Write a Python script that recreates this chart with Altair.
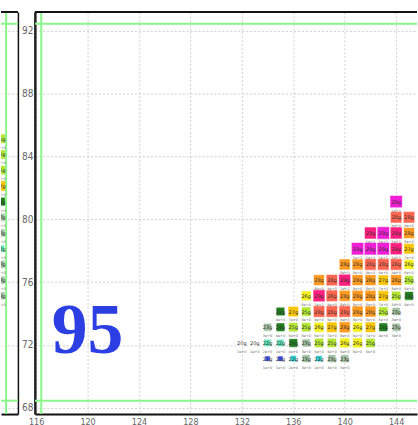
import altair as alt
import pandas as pd

# ---- data -------------------------------------------------------------
# Grid cells of the right-hand panel: for each latitude row, the first
# longitude and the intensity level of each consecutive cell.
rows_right = {
    81: (144, [12]),
    80: (144, [10, 10]),
    79: (142, [11, 12, 11, 9]),
    78: (141, [12, 12, 12, 11, 8]),
    77: (140, [9, 9, 10, 10, 10, 7]),
    76: (138, [9, 10, 11, 9, 9, 8, 9, 6]),
    75: (137, [7, 11, 10, 9, 9, 9, 8, 6, 5]),
    74: (135, [5, 8, 6, 10, 10, 10, 9, 9, 6, 4]),
    73: (134, [4, 5, 6, 6, 7, 8, 9, 7, 8, 5, 4]),
    72: (132, [0, 0, 3, 3, 5, 4, 6, 6, 7, 7, 6]),
    71: (134, [1, 1, 2, 4, 2, 4, 4]),
}

# Cells of the left-hand panel (only its eastern edge is in view)
left_lon = 146
left_lats = [85, 84, 83, 82, 81, 80, 79, 78, 77, 76, 75]
left_levels = [6, 6, 6, 8, 5, 4, 4, 3, 4, 4, 4]

level_codes = ["20g", "21g", "22g", "22g", "23g", "24g", "25g",
               "26g", "27g", "28g", "28g", "29g", "29g"]
level_notes = ["1e+0", "1e+0", "2e+0", "2e+0", "3e+0", "4e+0", "5e+0",
               "6e+0", "7e+0", "8e+0", "9e+0", "1e+1", "1e+1"]
palette = ["#ffffff", "#3d4fe0", "#35d4d4", "#5fe3b5", "#a3c2a3",
           "#1f7f1f", "#b4e634", "#f4f020", "#f9c60a", "#ff9a1f",
           "#ff6650", "#ff1f7e", "#ef1fd6"]

box_lats = [68.45, 92.45]
box_lons = [116.4, 146.4]

x_ticks = [116, 120, 124, 128, 132, 136, 140, 144]
y_ticks = [68, 72, 76, 80, 84, 88, 92]

year_label = "95"
year_lon, year_lat = 120.0, 72.85

# ---- tables -----------------------------------------------------------
recs = []
for lat, (lon0, levels) in rows_right.items():
    for i, lv in enumerate(levels):
        recs.append({"lon": lon0 + i, "lat": lat, "level": lv})
right_df = pd.DataFrame(recs)
left_df = pd.DataFrame({"lon": [left_lon] * len(left_lats),
                        "lat": left_lats, "level": left_levels})
for df in (right_df, left_df):
    df["code"] = [level_codes[v] for v in df["level"]]
    df["note"] = [level_notes[v] for v in df["level"]]

PANEL_H = 404
RIGHT_W = 384
LEFT_W = 17
PX_PER_DEG = 12.92
lat_scale = alt.Scale(domain=[67.6, 93.2], nice=False, zero=False)
right_lon_scale = alt.Scale(domain=[115.9, 115.9 + RIGHT_W / PX_PER_DEG], nice=False, zero=False)
left_lon_scale = alt.Scale(domain=[146.0, 146.0 + LEFT_W / PX_PER_DEG], nice=False, zero=False)

color_scale = alt.Scale(domain=list(range(13)), range=palette)
size_scale = alt.Scale(domain=[0, 12], range=[18, 155])

NARROW = "Liberation Sans Narrow, DejaVu Sans Condensed, sans-serif"
GRID = dict(grid=True, gridDash=[2, 2], gridColor="#cfcfcf", gridWidth=1)


def panel(df, lon_scale, x_axis, y_axis, width, lons_box, extra=None):
    base = alt.Chart(df).encode(
        x=alt.X("lon:Q", scale=lon_scale, axis=x_axis),
        y=alt.Y("lat:Q", scale=lat_scale, axis=y_axis),
    )
    squares = base.mark_square(
        clip=True, opacity=1, yOffset=-2, stroke="white",
        strokeWidth=1, strokeOpacity=0.55,
    ).encode(
        color=alt.Color("level:O", scale=color_scale, legend=None),
        size=alt.Size("level:Q", scale=size_scale, legend=None),
    )
    codes = base.mark_text(clip=True, fontSize=5, color="#333333", dy=-2,
                           font="DejaVu Sans").encode(text="code:N")
    notes = base.mark_text(clip=True, fontSize=3.5, color="#666666", dy=7,
                           font="DejaVu Sans").encode(text="note:N")

    hlines = alt.Chart(pd.DataFrame({"lat": box_lats})).mark_rule(
        color="#8af58a", strokeWidth=2, clip=True
    ).encode(y=alt.Y("lat:Q", scale=lat_scale))
    vlines = alt.Chart(pd.DataFrame({"lon": lons_box})).mark_rule(
        color="#8af58a", strokeWidth=2, clip=True
    ).encode(x=alt.X("lon:Q", scale=lon_scale))
    top_border = alt.Chart(pd.DataFrame({"k": [0]})).mark_rule(
        color="#111111", strokeWidth=2
    ).encode(y=alt.value(0))

    layers = [squares, hlines, vlines, codes, notes, top_border]
    if extra is not None:
        layers.append(extra)
    return alt.layer(*layers).properties(width=width, height=PANEL_H)


right_x_axis = alt.Axis(values=x_ticks, ticks=False, domainColor="#111111",
                        domainWidth=2, labelFontSize=9, labelColor="#666666",
                        labelPadding=4, labelFont=NARROW, title=None, **GRID)
right_y_axis = alt.Axis(values=y_ticks, ticks=False, domainColor="#222222",
                        domainWidth=2.5, labelFontSize=10, labelColor="#666666",
                        labelPadding=2, labelFont=NARROW, title=None, **GRID)
left_x_axis = alt.Axis(values=x_ticks, ticks=False, labels=False,
                       domainColor="#111111", domainWidth=2, title=None,
                       grid=False)
left_y_axis = alt.Axis(values=y_ticks, orient="right", ticks=False,
                       labels=False, domainColor="#111111", domainWidth=1.5,
                       title=None, **GRID)

year_text = alt.Chart(pd.DataFrame({"lon": [year_lon], "lat": [year_lat],
                                    "t": [year_label]})).mark_text(
    font="Liberation Serif", fontWeight="bold", fontSize=72,
    color="#2b3fe3", baseline="middle", align="center",
).encode(x=alt.X("lon:Q", scale=right_lon_scale),
         y=alt.Y("lat:Q", scale=lat_scale), text="t:N")

left = panel(left_df, left_lon_scale, left_x_axis, left_y_axis, LEFT_W,
             box_lons)
right = panel(right_df, right_lon_scale, right_x_axis, right_y_axis, RIGHT_W,
              box_lons, extra=year_text)

chart = alt.hconcat(left, right, spacing=17, bounds="flush").resolve_scale(
    x="independent", y="independent"
).properties(
    padding={"left": 0, "top": 10, "right": 0, "bottom": 0},
    background="white",
).configure_view(stroke=None)

chart.save("out.html", embed_options={"renderer": "svg", "actions": False})
